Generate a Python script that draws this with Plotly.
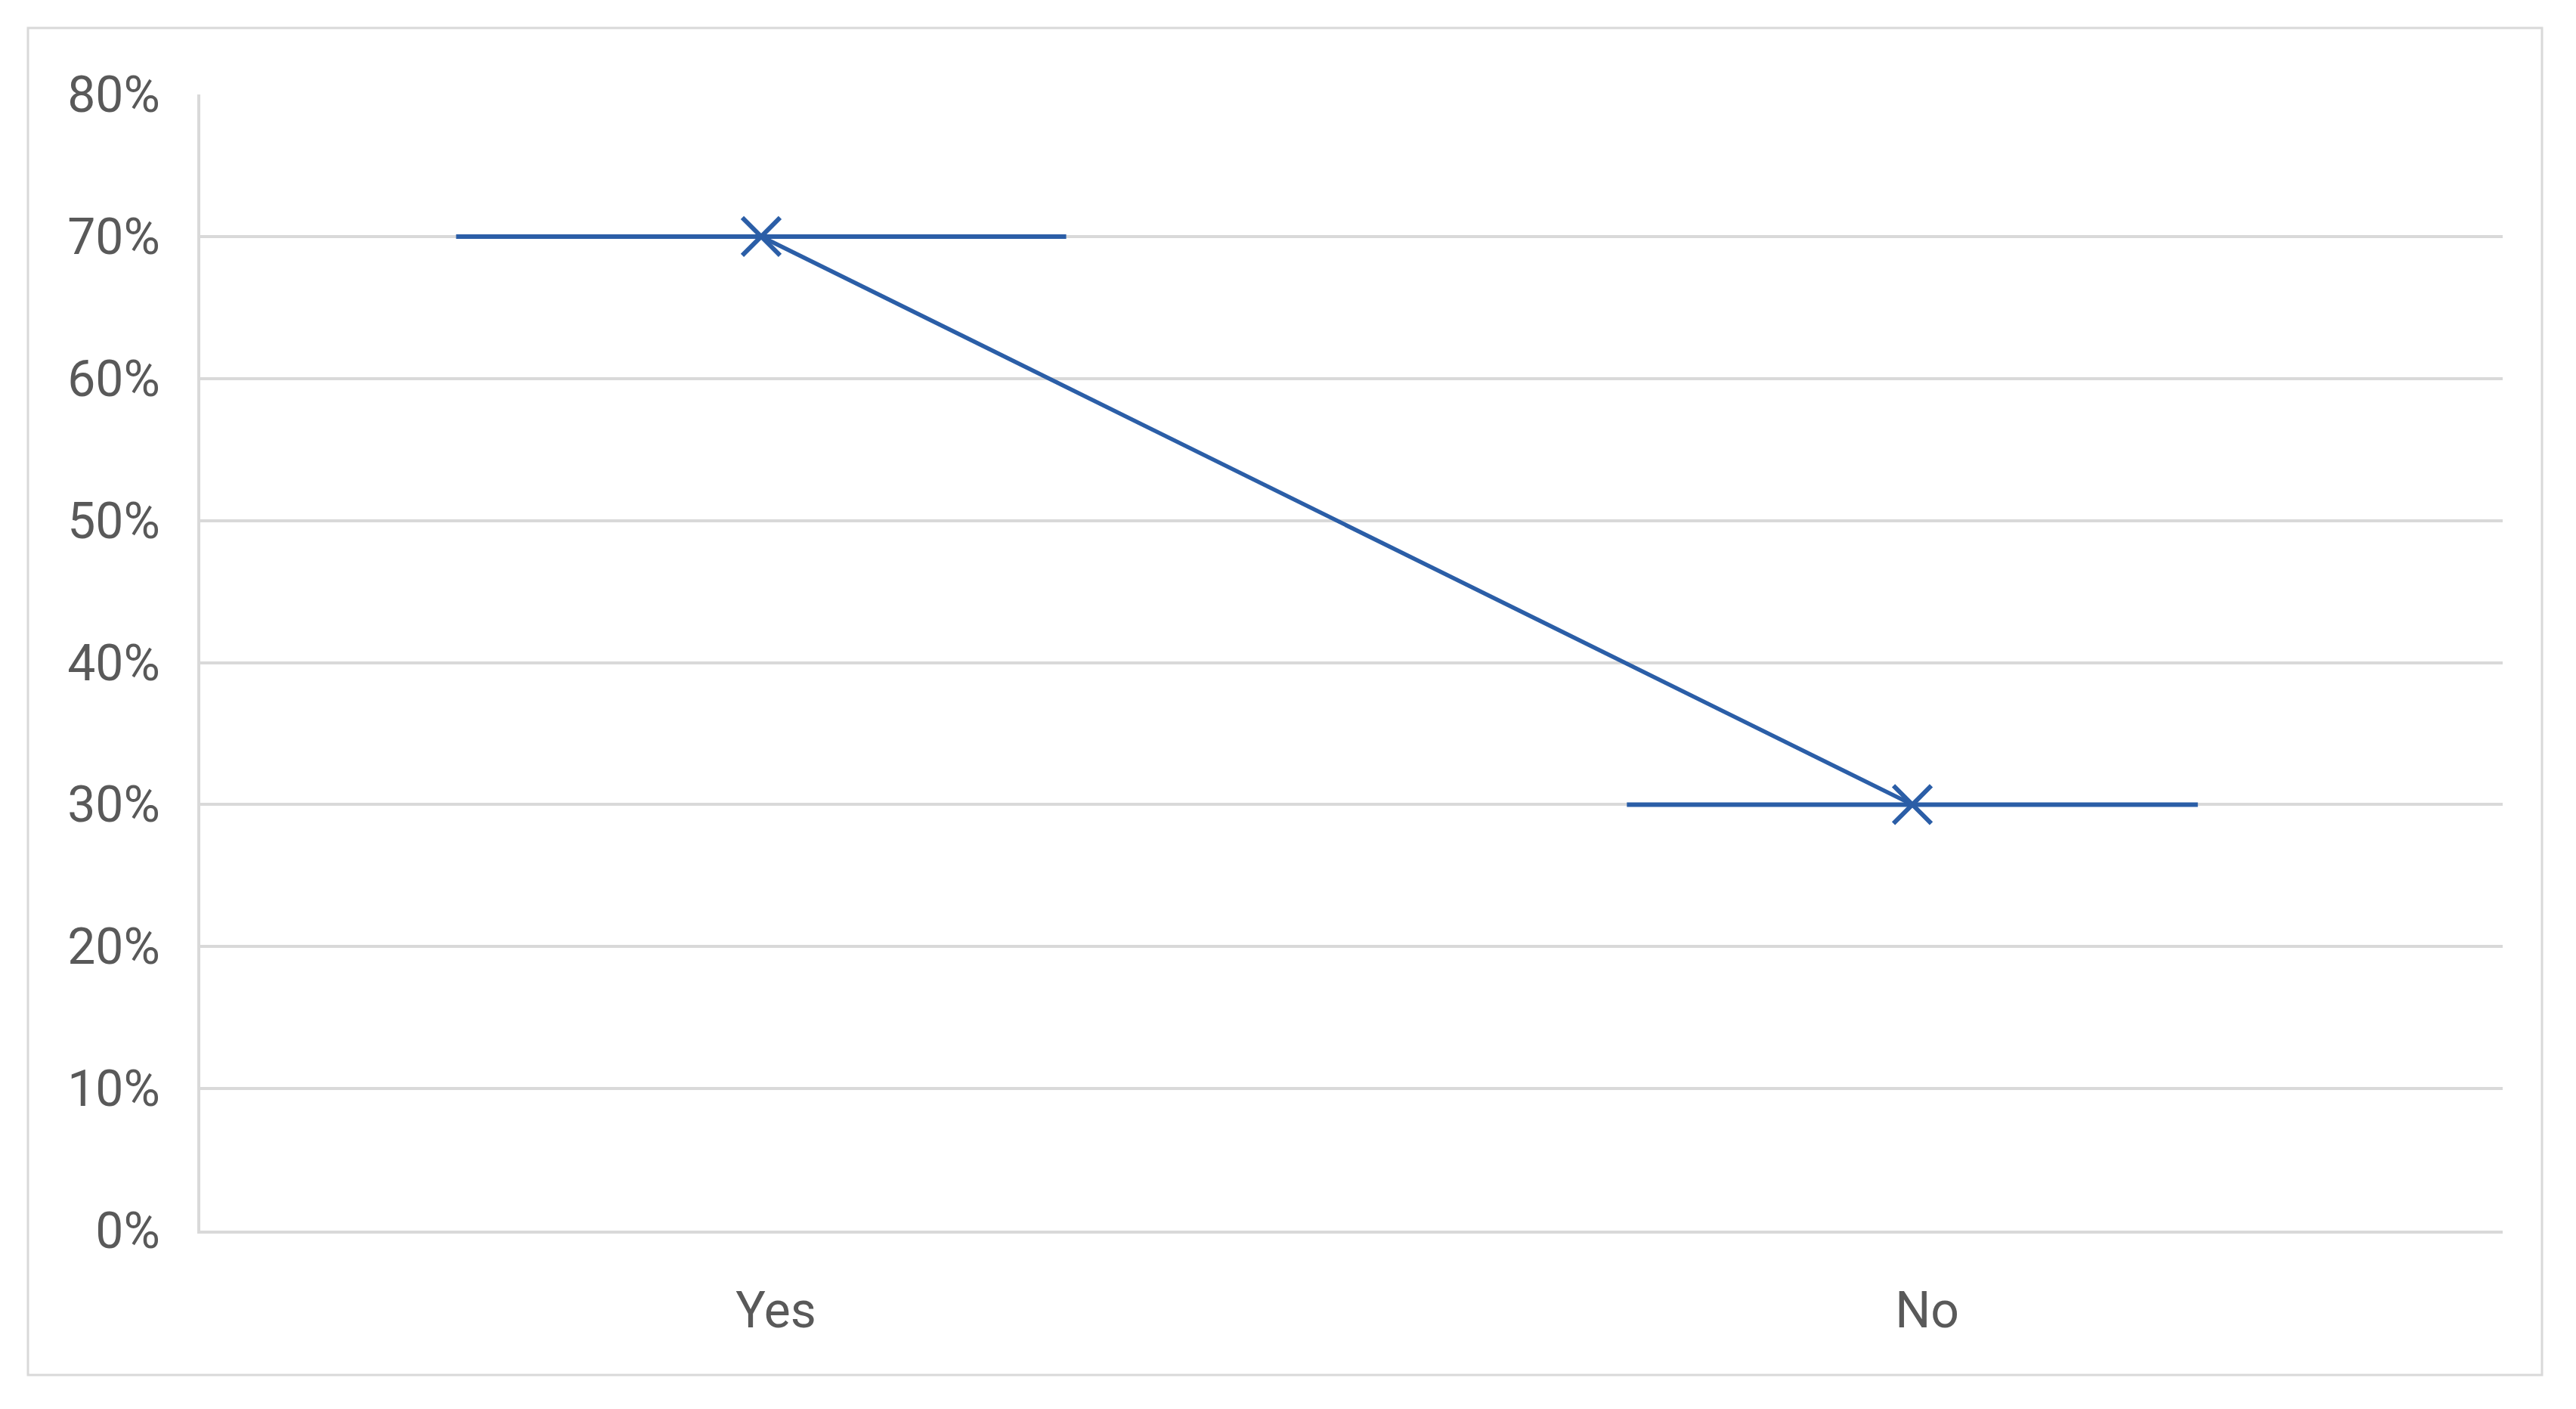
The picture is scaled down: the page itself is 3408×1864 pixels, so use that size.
import numpy as np
import plotly.graph_objects as go

# values
categories = ["Yes", "No"]
shares = [0.70, 0.30]
spread = [0.265, 0.248]          # half-length of the horizontal bars, in category units
y_ticks = [0, 0.1, 0.2, 0.3, 0.4, 0.5, 0.6, 0.7, 0.8]

# the page body has an 8px margin, so the figure is laid out inside it
off = 8
W, H = 3408 - 2 * off, 1864 - 2 * off
L, R, T, B = 265 - off, 3400 - 3311, 125 - off, 1856 - 1628
blue = "#2B5EA7"
grey = "#D9D9D9"
txt = "#595959"

pos = np.arange(len(categories)) + 1
label_shift = 0.0128   # Excel puts the tick labels a touch right of the markers

fig = go.Figure()
fig.add_trace(go.Scatter(
    x=pos, y=shares,
    mode="lines+markers",
    line=dict(color=blue, width=5.5),
    marker=dict(symbol="x-thin", size=50, line=dict(color=blue, width=6)),
    error_x=dict(type="data", array=spread, symmetric=True, width=0,
                 thickness=6, color=blue),
    hoverinfo="skip",
    showlegend=False,
))

plot_w = W - L - R
plot_h = H - T - B
bottom = H - B + off   # pixel row of the x axis on the page
# light frame around the whole chart
fig.add_shape(type="rect", xref="paper", yref="paper",
              x0=(37 - 265) / plot_w, x1=(3363 - 265) / plot_w,
              y0=-(1819 - bottom) / plot_h, y1=(bottom - 37) / plot_h,
              line=dict(color=grey, width=3), layer="below")

fig.update_layout(
    width=W, height=H,
    margin=dict(l=L, r=R, t=T, b=B),
    plot_bgcolor="white", paper_bgcolor="white",
    font=dict(family="Roboto", size=66, color=txt),
)
fig.update_xaxes(
    range=[0.5 + label_shift, 2.5 + label_shift],
    tickvals=pos + label_shift, ticktext=categories,
    showgrid=False, zeroline=False,
    showline=True, linecolor=grey, linewidth=4,
    ticks="", ticklabelstandoff=45,
)
fig.update_yaxes(
    range=[0, 0.8],
    tickvals=y_ticks, tickformat=".0%",
    showgrid=True, gridcolor=grey, gridwidth=4,
    zeroline=False,
    showline=True, linecolor=grey, linewidth=4,
    ticks="", ticklabelstandoff=36,
)

fig.write_html("out.html")
